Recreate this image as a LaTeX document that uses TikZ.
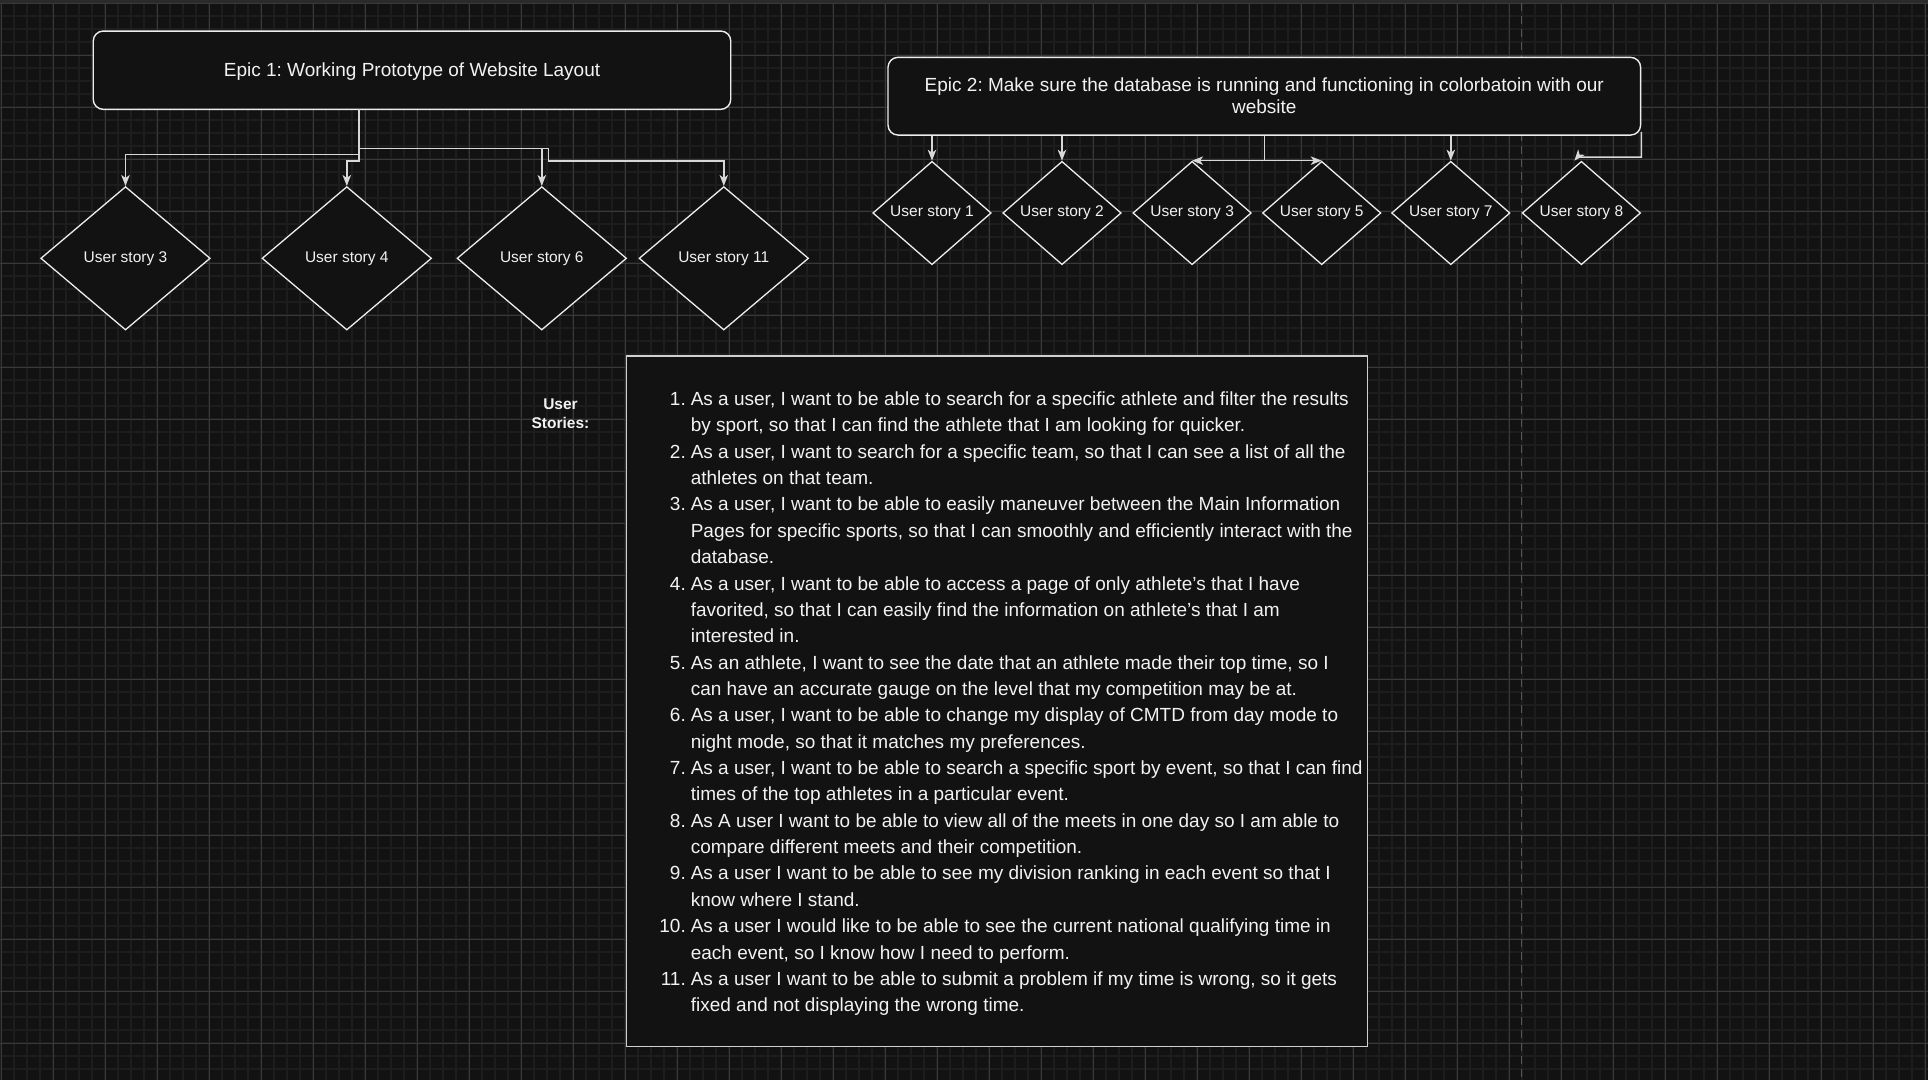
\documentclass[tikz,border=0pt]{standalone}
\usepackage{fontspec}
\setmainfont{Liberation Sans}
\usetikzlibrary{shapes.geometric,arrows.meta}
\definecolor{bg}{HTML}{121212}
\definecolor{gminor}{HTML}{1D1D1D}
\definecolor{gmajor}{HTML}{393939}
\definecolor{edgec}{HTML}{EDEDED}
\definecolor{wire}{HTML}{D8D8D8}
\definecolor{txt}{HTML}{F2F2F2}
\definecolor{dashc}{HTML}{555555}
\definecolor{strip}{HTML}{2B2B2B}
\definecolor{boxedge}{HTML}{D0D0D0}
\newcommand{\lsnum}[1]{\makebox[26.6pt][r]{#1}\hspace{5pt}}
\newcommand{\lsgap}{\hspace{31.6pt}}
\frenchspacing
\begin{document}
\begin{tikzpicture}[x=1pt,y=-1pt,
  epic/.style={draw=edgec, fill=bg, line width=1.4pt, rounded corners=10pt, inner sep=0pt, text=txt, font=\fontsize{19}{22}\selectfont, align=center},
  storyL/.style={diamond, draw=edgec, fill=bg, line width=1.3pt, inner sep=0pt, minimum width=169.5pt, minimum height=143.4pt, text=txt, font=\fontsize{15.5}{18}\selectfont},
  storyR/.style={storyL, minimum width=118.4pt, minimum height=103.4pt},
  conn/.style={draw=wire, line width=1.4pt, -{Stealth[length=11pt,width=8.5pt,inset=3pt]}},
  wireline/.style={draw=wire, line width=1.4pt},
]
\fill[bg] (0,0) rectangle (1928,1080);
\useasboundingbox (0,0) rectangle (1928,1080);
% grid
\foreach \i in {0,...,148} \draw[gminor, line width=1.8pt] ({1+13*\i},0) -- ({1+13*\i},1080);
\foreach \i in {0,...,82} \draw[gminor, line width=1.8pt] (0,{3+13*\i}) -- (1928,{3+13*\i});
\foreach \i in {0,...,37} \draw[gmajor, line width=1pt] ({1+52*\i},0) -- ({1+52*\i},1080);
\foreach \i in {0,...,20} \draw[gmajor, line width=1pt] (0,{3+52*\i}) -- (1928,{3+52*\i});
\fill[strip] (0,0) rectangle (1928,3);
% dashed guide
\coordinate (dtop) at (1521.7,3);
\coordinate (dbot) at (1521.7,1080);
\draw[dashc, line width=1.2pt, dash pattern=on 8pt off 5pt] (dtop) -- (dbot);

% epics
\node[epic, minimum width=637.5pt, minimum height=78.3pt, text height=13.5pt, text depth=0pt] (e1) at (412,70.2) {Epic 1: Working Prototype of Website Layout};
\node[epic, minimum width=752.6pt, minimum height=77.7pt] (e2) at (1264.3,96.2) {Epic 2: Make sure the database is running and functioning in colorbatoin with our\\website};

% left stories
\node[storyL] (a3) at (125.5,258.3) {User story 3};
\node[storyL] (a4) at (346.8,258.3) {User story 4};
\node[storyL] (a6) at (541.8,258.3) {User story 6};
\node[storyL] (a11) at (723.8,258.3) {User story 11};

% right stories
\node[storyR] (b1) at (932,213) {User story 1};
\node[storyR] (b2) at (1062,213) {User story 2};
\node[storyR] (b3) at (1192.1,213) {User story 3};
\node[storyR] (b5) at (1321.7,213) {User story 5};
\node[storyR] (b7) at (1450.8,213) {User story 7};
\node[storyR] (b8) at (1581.4,213) {User story 8};

% user stories box
\node[draw=boxedge, fill=bg, line width=1.1pt, minimum width=741.1pt, minimum height=690.5pt, inner sep=0pt] (box) at (996.85,701.25) {};
\node[text=txt, font=\bfseries\fontsize{15.5}{18.7}\selectfont, align=center] (lbl) at (560.5,413.5) {User\\Stories:};
\node[anchor=base west, inner sep=0pt, text=txt, font=\fontsize{19}{26.36}\selectfont] (list) at (659,405.5) {\begin{tabular}[t]{@{}l@{}}
\lsnum{1.}As a user, I want to be able to search for a specific athlete and filter the results\\
\lsgap by sport, so that I can find the athlete that I am looking for quicker.\\
\lsnum{2.}As a user, I want to search for a specific team, so that I can see a list of all the\\
\lsgap athletes on that team.\\
\lsnum{3.}As a user, I want to be able to easily maneuver between the Main Information\\
\lsgap Pages for specific sports, so that I can smoothly and efficiently interact with the\\
\lsgap database.\\
\lsnum{4.}As a user, I want to be able to access a page of only athlete’s that I have\\
\lsgap favorited, so that I can easily find the information on athlete’s that I am\\
\lsgap interested in.\\
\lsnum{5.}As an athlete, I want to see the date that an athlete made their top time, so I\\
\lsgap can have an accurate gauge on the level that my competition may be at.\\
\lsnum{6.}As a user, I want to be able to change my display of CMTD from day mode to\\
\lsgap night mode, so that it matches my preferences.\\
\lsnum{7.}As a user, I want to be able to search a specific sport by event, so that I can find\\
\lsgap times of the top athletes in a particular event.\\
\lsnum{8.}As A user I want to be able to view all of the meets in one day so I am able to\\
\lsgap compare different meets and their competition.\\
\lsnum{9.}As a user I want to be able to see my division ranking in each event so that I\\
\lsgap know where I stand.\\
\lsnum{10.}As a user I would like to be able to see the current national qualifying time in\\
\lsgap each event, so I know how I need to perform.\\
\lsnum{11.}As a user I want to be able to submit a problem if my time is wrong, so it gets\\
\lsgap fixed and not displaying the wrong time.
\end{tabular}};

% connectors epic 1
\coordinate (j1) at (359,109.35);
\draw[conn] (j1) |- (125.5,154.5) -- (a3.north);
\draw[conn] (j1) |- (346.8,161) -- (a4.north);
\draw[conn] (j1) |- (541.8,148.3) -- (a6.north);
\draw[conn] (j1) |- (548.3,148.3) |- (723.8,161) -- (a11.north);

% connectors epic 2
\draw[conn] (e2.south -| b1.north) -- (b1.north);
\draw[conn] (e2.south -| b2.north) -- (b2.north);
\draw[conn] (e2.south -| b7.north) -- (b7.north);
\coordinate (j2) at (e2.south |- b3.north);
\draw[wireline] (e2.south) -- (j2);
\draw[conn] (j2) -- (b3.north);
\draw[conn] (j2) -- (b5.north);
\draw[conn] ([yshift=4pt]e2.south east) |- ([xshift=-4pt,yshift=3.6pt]b8.north) -- ([xshift=-7pt]b8.north);
\end{tikzpicture}
\end{document}
